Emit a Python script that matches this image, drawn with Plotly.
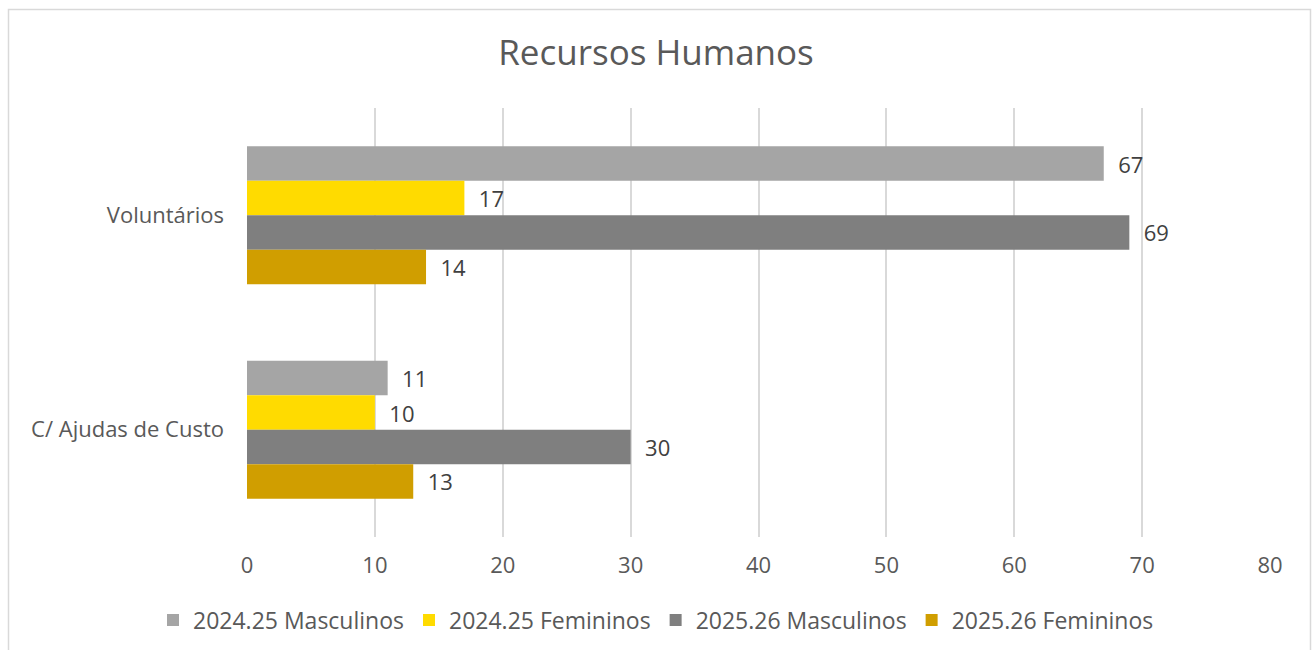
import plotly.graph_objects as go

categories = ["Voluntários", "C/ Ajudas de Custo"]
series_names = ["2024.25 Masculinos", "2024.25 Femininos", "2025.26 Masculinos", "2025.26 Femininos"]
m_2024 = [67, 11]
f_2024 = [17, 10]
m_2025 = [69, 30]
f_2025 = [14, 13]
x_ticks = [0, 10, 20, 30, 40, 50, 60, 70, 80]

colors = ["#A5A5A5", "#FFDB00", "#7F7F7F", "#D09E00"]
FONT = "Open Sans"

fig = go.Figure()
for name, vals, col in zip(series_names, [m_2024, f_2024, m_2025, f_2025], colors):
    fig.add_trace(go.Bar(
        y=categories, x=vals, name=name, orientation="h",
        marker=dict(color=col, line=dict(width=0)),
        text=vals, texttemplate="  %{x}", textposition="outside",
        textfont=dict(family=FONT, size=22, color="#404040"),
        cliponaxis=False,
    ))

W, H = 1312, 650
L, R, T, B = 247, 42, 108, 113
pw, ph = W - L - R, H - T - B

def px_x(x):
    return (x - L) / pw

def px_y(y):
    return (H - B - y) / ph

fig.update_layout(
    width=W, height=H,
    margin=dict(l=L, r=R, t=T, b=B),
    paper_bgcolor="white", plot_bgcolor="white",
    barmode="group", bargap=0.357, bargroupgap=0,
    title=dict(text="Recursos Humanos", x=0.5, xref="container", xanchor="center",
               y=1 - 53 / H, yanchor="middle",
               font=dict(family=FONT, size=35, color="#595959")),
    font=dict(family=FONT, color="#595959"),
    xaxis=dict(range=[0, 80], tickvals=x_ticks, showgrid=True, gridcolor="#D9D9D9", gridwidth=1.5,
               zeroline=False, showline=False, ticks="", ticklabelstandoff=13,
               tickfont=dict(family=FONT, size=22, color="#595959")),
    yaxis=dict(autorange="reversed", showgrid=False, zeroline=False, showline=False, ticks="",
               ticklabelstandoff=22, tickfont=dict(family=FONT, size=22, color="#595959")),
    legend=dict(orientation="h", x=0.5, xanchor="center", xref="container",
                y=1 - 620 / H, yref="container", yanchor="middle",
                font=dict(family=FONT, size=23, color="#595959"), itemwidth=30),
    showlegend=True,
    shapes=[dict(type="rect", xref="paper", yref="paper",
                 x0=px_x(8.5), x1=px_x(1310.5), y0=px_y(700), y1=px_y(9.5),
                 line=dict(color="#D9D9D9", width=1.5), fillcolor="rgba(0,0,0,0)", layer="below")],
)

fig.write_html("out.html", config={"displayModeBar": False},
               post_script="document.body.style.margin='0px';document.body.style.overflow='hidden';")
